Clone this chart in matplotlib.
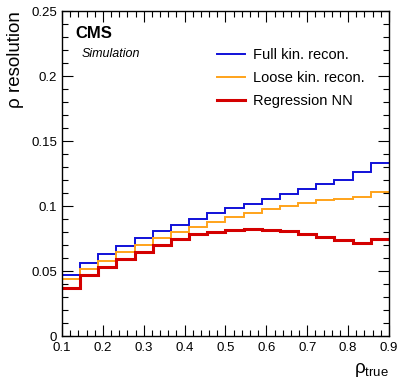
import numpy as np
import matplotlib.pyplot as plt
from matplotlib.ticker import MultipleLocator, FixedLocator

plt.rcParams['font.family'] = ['Liberation Sans', 'DejaVu Sans']
plt.rcParams['mathtext.fontset'] = 'custom'
plt.rcParams['mathtext.rm'] = 'Liberation Sans'

# 18 bins in rho_true from 0.1 to 0.9
edges = np.linspace(0.1, 0.9, 19)

full_kin = [0.0469, 0.0564, 0.0628, 0.0692, 0.0754, 0.0808, 0.0854, 0.0900, 0.0944,
            0.0985, 0.1018, 0.1056, 0.1092, 0.1128, 0.1167, 0.1200, 0.1262, 0.1331]
loose_kin = [0.0438, 0.0518, 0.0580, 0.0644, 0.0703, 0.0754, 0.0797, 0.0841, 0.0879,
             0.0918, 0.0949, 0.0980, 0.1003, 0.1023, 0.1044, 0.1056, 0.1067, 0.1110]
regression_nn = [0.0369, 0.0467, 0.0533, 0.0590, 0.0649, 0.0703, 0.0746, 0.0782, 0.0803,
                 0.0815, 0.0823, 0.0818, 0.0805, 0.0787, 0.0764, 0.0738, 0.0718, 0.0746]

labels = ['Full kin. recon.', 'Loose kin. recon.', 'Regression NN']
colors = ['#1010d8', '#ffa31a', '#d40000']
widths = [1.4, 1.4, 2.2]

xticks = [0.1, 0.2, 0.3, 0.4, 0.5, 0.6, 0.7, 0.8, 0.9]
xticklabels = ['0.1', '0.2', '0.3', '0.4', '0.5', '0.6', '0.7', '0.8', '0.9']
yticks = [0, 0.05, 0.1, 0.15, 0.2, 0.25]
yticklabels = ['0', '0.05', '0.1', '0.15', '0.2', '0.25']

fig = plt.figure(figsize=(4.01, 3.82), dpi=100)
ax = fig.add_axes([0.1546, 0.1204, 0.8154, 0.8508])

for vals, lab, c, w in zip([full_kin, loose_kin, regression_nn], labels, colors, widths):
    ax.stairs(vals, edges, color=c, lw=w, label=lab, baseline=None)

ax.set_xlim(0.1, 0.9)
ax.set_ylim(0, 0.25)
ax.xaxis.set_major_locator(FixedLocator(xticks))
ax.xaxis.set_minor_locator(MultipleLocator(0.02))
ax.yaxis.set_major_locator(FixedLocator(yticks))
ax.yaxis.set_minor_locator(MultipleLocator(0.01))
ax.set_xticklabels(xticklabels)
ax.set_yticklabels(yticklabels)
ax.tick_params(which='both', direction='in', top=True, right=True, labelsize=9.5, width=0.8)
ax.tick_params(which='major', length=8)
ax.tick_params(which='minor', length=4)
ax.tick_params(axis='x', pad=4)
for s in ax.spines.values():
    s.set_linewidth(1.0)

ax.set_ylabel('\u03c1 resolution', fontsize=13.5, loc='top', labelpad=5)
ax.set_xlabel('\u03c1$_{\\mathrm{true}}$', fontsize=13.5, loc='right', labelpad=5)

ax.text(0.04, 0.955, 'CMS', transform=ax.transAxes, fontsize=12, fontweight='bold', va='top')
ax.text(0.06, 0.885, 'Simulation', transform=ax.transAxes, fontsize=9, style='italic', va='top')

ax.legend(loc='upper left', bbox_to_anchor=(0.474, 0.885), frameon=False, fontsize=10.5,
          borderpad=0, borderaxespad=0,
          handlelength=1.9, handletextpad=0.55, labelspacing=0.62)

fig.savefig('out.png', dpi=100)
